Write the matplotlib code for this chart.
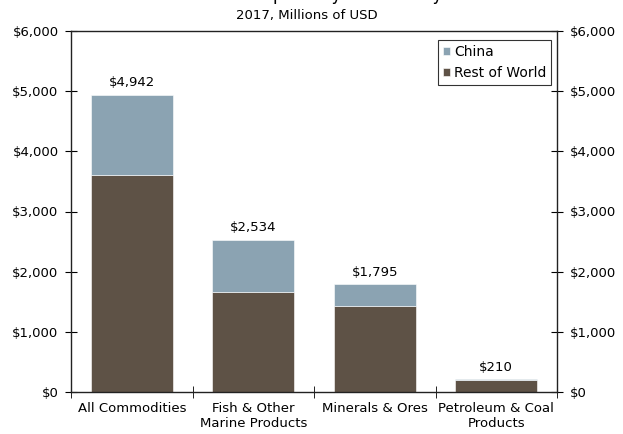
import matplotlib.pyplot as plt
from matplotlib.ticker import FuncFormatter

# data
categories = ['All Commodities', 'Fish & Other\nMarine Products',
              'Minerals & Ores', 'Petroleum & Coal\nProducts']
rest_of_world = [3610, 1660, 1430, 207]
china = [1332, 874, 365, 3]
totals = [4942, 2534, 1795, 210]

c_china = '#8ba3b2'
c_row = '#5e5246'

plt.rcParams['font.family'] = 'DejaVu Sans'
plt.rcParams['font.size'] = 9.5

fig = plt.figure(figsize=(6.23, 4.34), dpi=100)
ax = fig.add_axes([71 / 623, 42 / 434, 486 / 623, 361 / 434])

x = range(len(categories))
ax.bar(x, rest_of_world, width=0.675, color=c_row, edgecolor='white',
       linewidth=0.4, label='Rest of World')
ax.bar(x, china, width=0.675, bottom=rest_of_world, color=c_china,
       edgecolor='white', linewidth=0.4, label='China')

for i, t in enumerate(totals):
    ax.text(i, t + 90, '${:,}'.format(t), ha='center', va='bottom')

ax.set_xlim(-0.5, 3.5)
ax.set_ylim(0, 6000)
ax.set_yticks(range(0, 6001, 1000))
fmt = FuncFormatter(lambda v, p: '${:,.0f}'.format(v))
ax.yaxis.set_major_formatter(fmt)
ax.set_xticks([0, 1, 2, 3])
ax.set_xticklabels(categories, linespacing=1.2)
ax.set_xticks([-0.5, 0.5, 1.5, 2.5, 3.5], minor=True)
ax.tick_params(axis='x', which='major', length=0, pad=7)
ax.tick_params(axis='x', which='minor', direction='inout', length=8)
ax.tick_params(axis='y', direction='inout', length=8, right=True,
               labelright=True, pad=5)
for s in ax.spines.values():
    s.set_linewidth(1.0)
    s.set_color('#222222')

# legend: China on top
h, l = ax.get_legend_handles_labels()
leg = ax.legend(h[::-1], l[::-1], loc='upper right',
                bbox_to_anchor=(0.988, 0.975), frameon=True, fancybox=False,
                edgecolor='black', handlelength=0.55, handleheight=0.55,
                handletextpad=0.25, borderpad=0.35, labelspacing=0.5,
                borderaxespad=0.0, fontsize=10)
leg.get_frame().set_linewidth(0.8)

fig.text(0.51, 1.012, 'Alaska Exports by Commodity', ha='center',
         va='center', fontsize=12)
fig.text(0.493, 0.965, '2017, Millions of USD', ha='center', va='center')

fig.savefig('out.png', dpi=100)
